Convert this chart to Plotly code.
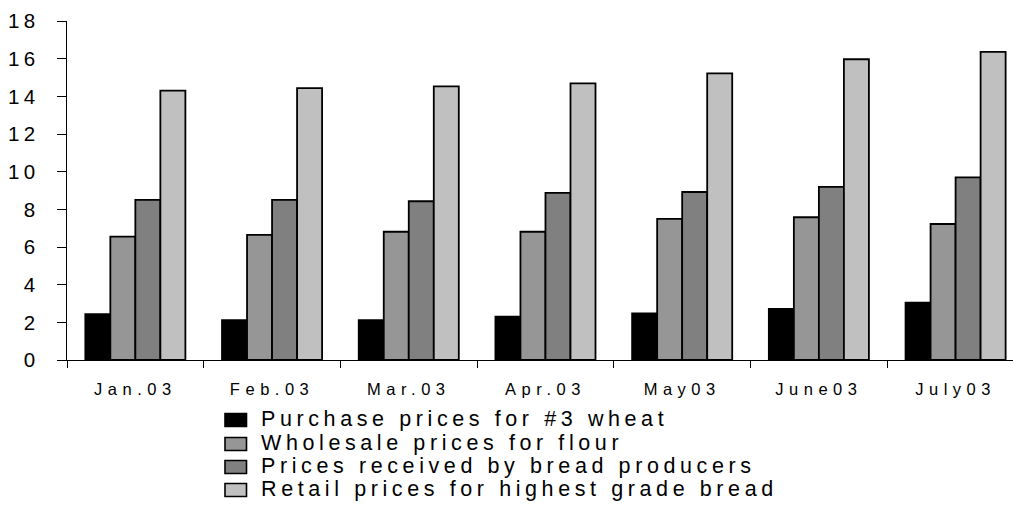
import plotly.graph_objects as go

# Monthly prices, 2003
months = ["Jan.03", "Feb.03", "Mar.03", "Apr.03", "May03", "June03", "July03"]
wheat = [2.44, 2.12, 2.12, 2.30, 2.48, 2.71, 3.04]
flour = [6.55, 6.64, 6.81, 6.81, 7.49, 7.58, 7.22]
producers = [8.50, 8.50, 8.43, 8.87, 8.92, 9.19, 9.70]
retail = [14.30, 14.44, 14.53, 14.69, 15.22, 15.97, 16.36]

series_names = [
    "Purchase prices for #3 wheat",
    "Wholesale prices for flour",
    "Prices received by bread producers",
    "Retail prices for highest grade bread",
]
series_values = [wheat, flour, producers, retail]
series_colors = ["#000000", "#969696", "#808080", "#C0C0C0"]

y_ticks = [0, 2, 4, 6, 8, 10, 12, 14, 16, 18]

FONT = "Liberation Sans, Arial, sans-serif"
W, H = 1013, 506
ML, MR, MT, MB = 67, 0, 21, 146
PW, PH = W - ML - MR, H - MT - MB

fig = go.Figure()
for name, vals, col in zip(series_names, series_values, series_colors):
    fig.add_trace(go.Bar(
        x=months, y=vals, name=name,
        marker=dict(color=col, line=dict(color="#000000", width=1.8)),
        showlegend=False,
    ))


def px_x(p):
    return (p - ML) / PW


def px_y(p):
    return (H - MB - p) / PH


# Legend drawn as swatches + labels below the axis
legend_rows = [420, 444, 467, 490]
shapes = []
annotations = []
for name, col, cy in zip(series_names, series_colors, legend_rows):
    shapes.append(dict(
        type="rect", xref="paper", yref="paper",
        x0=px_x(225), x1=px_x(246.5), y0=px_y(cy + 6.5), y1=px_y(cy - 6.5),
        fillcolor=col, line=dict(color="#000000", width=1.6), layer="above",
    ))
    annotations.append(dict(
        xref="paper", yref="paper", x=px_x(259), y=px_y(cy - 1),
        xanchor="left", yanchor="middle", align="left",
        text=name, showarrow=False,
        font=dict(family=FONT, size=21.5, color="#000000"),
    ))

fig.update_layout(
    width=W, height=H,
    margin=dict(l=ML, r=MR, t=MT, b=MB, pad=0),
    paper_bgcolor="white", plot_bgcolor="white",
    barmode="group", bargap=0.268, bargroupgap=0,
    shapes=shapes, annotations=annotations,
    font=dict(family=FONT, color="#000000"),
    xaxis=dict(
        type="category", range=[-0.5, 6.42],
        showline=True, linecolor="#000000", linewidth=1.2,
        ticks="outside", tickson="boundaries", ticklen=7,
        tickcolor="#000000", tickwidth=1.2,
        tickfont=dict(family=FONT, size=16.5, color="#000000"),
        showgrid=False, zeroline=False, fixedrange=True,
        ticklabelstandoff=14,
    ),
    yaxis=dict(
        range=[0, 18], tickvals=y_ticks,
        showline=True, linecolor="#000000", linewidth=1.4,
        ticks="outside", ticklen=9, tickcolor="#000000", tickwidth=1.2,
        tickfont=dict(family=FONT, size=20.5, color="#000000"),
        showgrid=False, zeroline=False, fixedrange=True,
        ticklabelstandoff=13,
    ),
)

# Widen the character tracking of axis and legend text
tracking_js = """
var gd = document.getElementById('{plot_id}');
function applyTracking() {
  gd.querySelectorAll('.ytick text').forEach(function (t) { t.style.letterSpacing = '4.5px'; });
  gd.querySelectorAll('.xtick text').forEach(function (t) { t.style.letterSpacing = '5.5px'; });
  gd.querySelectorAll('.annotation-text').forEach(function (t) { t.style.letterSpacing = '4.6px'; });
}
applyTracking();
gd.on('plotly_afterplot', applyTracking);
"""

fig.write_html("out.html", post_script=tracking_js, config={"displayModeBar": False})
